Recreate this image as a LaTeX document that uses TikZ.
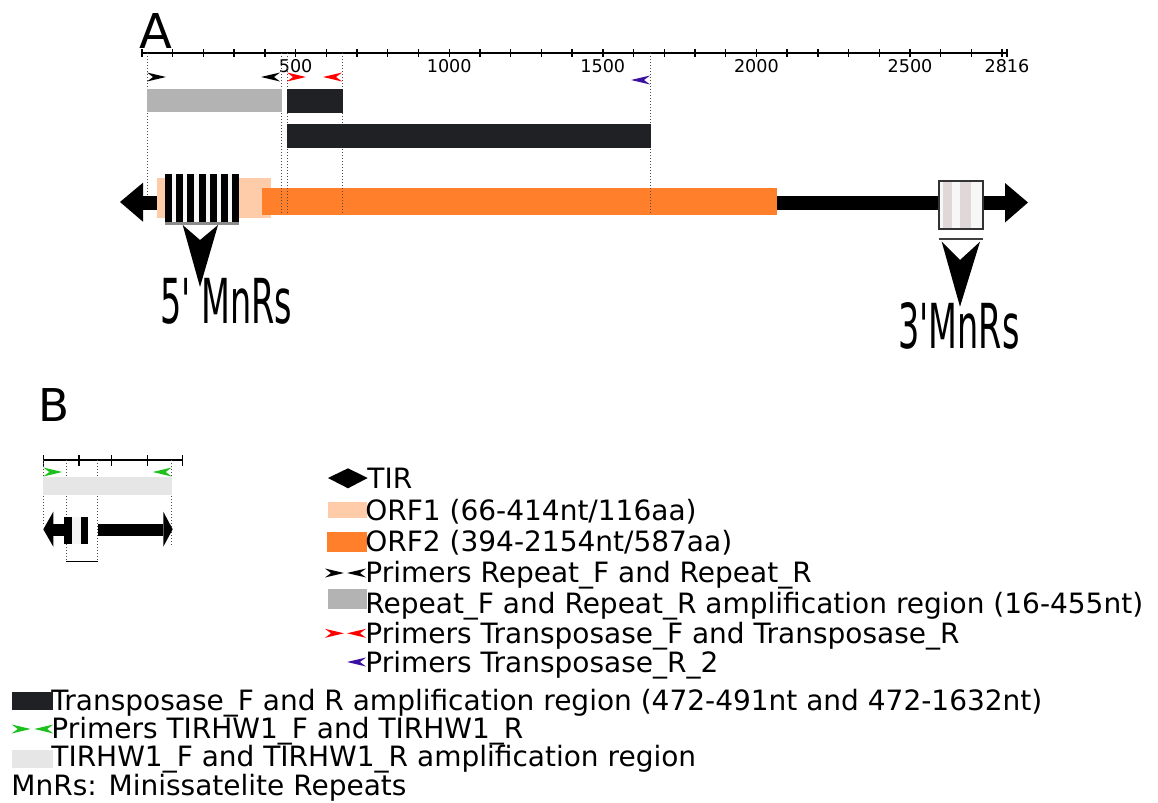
\documentclass[tikz,border=0pt]{standalone}
\usepackage{fontspec}
\setmainfont{DejaVu Sans}
\newfontfamily\mnrsfont{DejaVu Sans}

\definecolor{orfun}{HTML}{FFCCAA}
\definecolor{orfdeux}{HTML}{FF7F2A}
\definecolor{grisrep}{HTML}{B3B3B3}
\definecolor{grisclair}{HTML}{E6E6E6}
\definecolor{noirtr}{HTML}{1F2125}
\definecolor{bleuam}{HTML}{3A10A0}
\definecolor{vertam}{HTML}{1EC01E}
\definecolor{rose}{HTML}{E0D8D8}

\tikzset{
  amorceD/.pic={\fill (0,-4.5) -- (19,0) -- (0,4.5) -- (6,0) -- cycle;},
  amorceG/.pic={\fill (0,-4.5) -- (-19,0) -- (0,4.5) -- (-6,0) -- cycle;},
  pointille/.style={densely dotted,black!70,line width=0.5pt},
  leg/.style={anchor=base west,inner sep=0pt,font=\fontsize{14}{16}\selectfont},
  grad/.style={anchor=base,inner sep=0pt,font=\fontsize{8.8}{10}\selectfont},
  mnrs/.style={anchor=base west,inner sep=0pt,xscale=0.54,font=\mnrsfont\fontsize{31}{34}\selectfont},
}

\begin{document}
\begin{tikzpicture}[x=0.5pt,y=-0.5pt]
	\useasboundingbox (0,0) rectangle (1158,803);
	% Echelle de la regle : 1 nt = 0.3072 px
	\def\orig{142}
	\def\ech{0.3072}
	% Panneau A
	\node[anchor=base west,inner sep=0pt,font=\fontsize{24}{26}\selectfont] (lettreA) at (139,48.3) {A};
	% Regle et graduations
	\draw[line width=1pt] (\orig,53) -- (1007,53);
	\foreach \n in {0,100,...,2800}
		\draw[line width=0.7pt] (\orig+\ech*\n,49) -- ++(0,8);
	\draw[line width=0.7pt] (1007,49) -- ++(0,8);
	\foreach \n in {500,1000,1500,2000,2500}
		\node[grad] (g\n) at (\orig+\ech*\n,72) {\n};
	\node[grad] (g2816) at (1007,72) {2816};
	% Squelette et TIR
	\fill (143,195.5) rectangle (1005,209.5);
	\fill (143,182.7) -- (120,202) -- (143,221.7) -- cycle;
	\fill (1005,183) -- (1028,202.5) -- (1005,222.5) -- cycle;
	% ORF1 et 5' MnRs
	\fill[orfun] (157,178) rectangle (271,218);
	\fill[black!3] (165,174) rectangle (239.3,221.7);
	\foreach \k in {0,...,6}
		\fill (165+11.2*\k,174) rectangle ++(7,47.7);
	\fill[black!45] (165,221.7) rectangle (239.3,224.5);
	% ORF2
	\fill[orfdeux] (262,188) rectangle (777,215);
	% Pointilles
	\draw[pointille] (147,53) -- (147,196);
	\foreach \x in {281.7,287.2,342.5,650.8}
		\draw[pointille] (\x,53) -- (\x,214);
	% Zones amplifiees
	\fill[grisrep] (147.3,89) rectangle (281.7,112);
	\fill[noirtr] (287,89) rectangle (343,113);
	\fill[noirtr] (287,124) rectangle (651,148);
	% Amorces
	\pic[black] at (147,77) {amorceD};
	\pic[black] at (280,77) {amorceG};
	\pic[red] at (287,77) {amorceD};
	\pic[red] at (342,77) {amorceG};
	\pic[bleuam] at (650,80) {amorceG};
	% 3' MnRs
	\fill[black!3] (939,181) rectangle (982.7,229.3);
	\fill[rose] (943,182) rectangle (952,228.3);
	\fill[rose] (960,182) rectangle (971,228.3);
	\draw[black!80,line width=1pt] (939,181) rectangle (982.7,229.3);
	\draw[black!75,line width=1pt] (939,239) -- (983,239);
	% Fleches vers les MnRs
	\fill (182.7,225) -- (200,287) -- (218,225) -- (200,240) -- cycle;
	\fill (941.7,241.7) -- (960,306.7) -- (980,241.7) -- (960,260) -- cycle;
	\node[mnrs] (cinqp) at (160,323) {5' MnRs};
	\node[mnrs] (troisp) at (898,348) {3'MnRs};
	% Panneau B
	\node[anchor=base west,inner sep=0pt,font=\fontsize{22.6}{24}\selectfont] (lettreB) at (38,421.7) {B};
	\draw[line width=0.7pt] (43.3,460) -- (182.7,460);
	\foreach \x in {43.3,79,111.7,147.7,182.7}
		\draw[line width=0.7pt] (\x,455) -- (\x,466);
	\draw[pointille] (43.3,460) -- (43.3,525);
	\draw[pointille] (66,460) -- (66,561.7);
	\draw[pointille] (97.7,460) -- (97.7,561.7);
	\draw[pointille] (171.7,460) -- (171.7,546);
	\draw[line width=0.5pt] (66,561.7) -- (97.7,561.7);
	\pic[vertam] at (43.3,472) {amorceD};
	\pic[vertam] at (171.7,472) {amorceG};
	\fill[grisclair] (43.3,476.7) rectangle (171.7,495);
	\fill (53.3,511.7) -- (43.3,529.3) -- (53.3,546.7) -- cycle;
	\fill (53.3,524) rectangle (64,536);
	\fill (64,516.7) rectangle (71.7,544);
	\fill[black!4] (71.7,516.7) rectangle (81,544);
	\fill (81,516.7) rectangle (88.3,544);
	\fill (97.7,524) rectangle (163.3,536);
	\fill (163.3,511.7) -- (172.7,529.3) -- (163.3,546.7) -- cycle;
	% Legende
	\fill (328,478) -- (348,468.3) -- (367.7,478) -- (348,488.3) -- cycle;
	\node[leg] (lTIR) at (367,488) {TIR};
	\fill[orfun] (328,501.7) rectangle (366.7,518.3);
	\node[leg] (lORF1) at (365,520) {ORF1 (66-414nt/116aa)};
	\fill[orfdeux] (326.7,532.3) rectangle (366.7,551.7);
	\node[leg] (lORF2) at (365,551) {ORF2 (394-2154nt/587aa)};
	\pic[black] at (325,573) {amorceD};
	\pic[black] at (366,573) {amorceG};
	\node[leg] (lamRep) at (365,582) {Primers Repeat\_F and Repeat\_R};
	\fill[grisrep] (328.3,589.3) rectangle (366.7,609.3);
	\node[leg] (lzoneRep) at (365,613) {Repeat\_F and Repeat\_R amplification region (16-455nt)};
	\pic[red] at (325,633.3) {amorceD};
	\pic[red] at (366,633.3) {amorceG};
	\node[leg] (lamTr) at (365,643) {Primers Transposase\_F and Transposase\_R};
	\pic[bleuam] at (366,662) {amorceG};
	\node[leg] (lamTrd) at (365,672) {Primers Transposase\_R\_2};
	\fill[noirtr] (11.7,691.7) rectangle (53.3,710);
	\node[leg] (lzoneTr) at (51,710) {Transposase\_F and R amplification region (472-491nt and 472-1632nt)};
	\pic[vertam] at (11.7,729) {amorceD};
	\pic[vertam] at (53.3,729) {amorceG};
	\node[leg] (lamTIR) at (51,738) {Primers TIRHW1\_F and TIRHW1\_R};
	\fill[grisclair] (11.7,750) rectangle (53.3,768);
	\node[leg] (lzoneTIR) at (51,766) {TIRHW1\_F and TIRHW1\_R amplification region};
	\node[leg] (lMnRs) at (11,795) {MnRs: Minissatelite Repeats};
\end{tikzpicture}
\end{document}
